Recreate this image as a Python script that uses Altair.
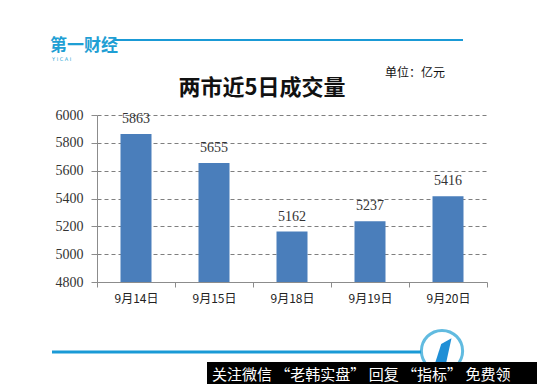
import altair as alt
import pandas as pd

categories = ["9月14日", "9月15日", "9月18日", "9月19日", "9月20日"]
values = [5863, 5655, 5162, 5237, 5416]
y_ticks = [4800, 5000, 5200, 5400, 5600, 5800, 6000]

df = pd.DataFrame({"date": categories, "value": values})

W, H = 390, 167
BLUE = "#1a9ad6"

x = alt.X("date:N", sort=categories, title=None,
          scale=alt.Scale(paddingInner=0, paddingOuter=0),
          axis=alt.Axis(labelAngle=0, tickBand="extent", tickSize=5, labelPadding=6,
                        domainColor="#8c8c8c", tickColor="#8c8c8c",
                        labelFont="Noto Sans CJK SC", labelFontSize=12, labelColor="#222"))
y = alt.Y("value:Q", title=None,
          scale=alt.Scale(domain=[4800, 6000], nice=False, zero=False),
          axis=alt.Axis(values=y_ticks, tickCount=7, format="d", labelOverlap=False,
                        tickSize=6, labelPadding=8,
                        domainColor="#8c8c8c", tickColor="#8c8c8c",
                        grid=True, gridDash=[4, 3], gridColor="#7f7f7f",
                        labelFont="Liberation Serif", labelFontSize=14, labelColor="#333"))

base = alt.Chart(df)
bars = base.mark_bar(width=31, color="#4a7ebb").encode(x=x, y=y, y2=alt.datum(4800))
labels = base.mark_text(baseline="bottom", dy=-8, font="Liberation Serif",
                        fontSize=14, color="#333").encode(x=x, y=y, text="value:Q")

one = pd.DataFrame({"a": [0]})
c = alt.Chart(one)

top_line = c.mark_rule(color=BLUE, strokeWidth=2).encode(
    x=alt.value(18), x2=alt.value(366), y=alt.value(-75))
bot_line = c.mark_rule(color=BLUE, strokeWidth=3).encode(
    x=alt.value(-45), x2=alt.value(324), y=alt.value(237))
logo = c.mark_text(text="第一财经", font="Noto Sans CJK SC", fontWeight="bold",
                   fontSize=17, color="#1f9fd4", align="left", baseline="middle").encode(
    x=alt.value(-47), y=alt.value(-69))
logo2 = c.mark_text(text="Y    I    C    A    I", font="DejaVu Sans", fontSize=5,
                    color="#1f9fd4", align="left", baseline="middle").encode(
    x=alt.value(-45), y=alt.value(-56))
title = c.mark_text(text="两市近5日成交量", font="Noto Sans CJK SC", fontWeight="bold",
                    fontSize=22, color="#111", align="center",
                    baseline="middle").encode(x=alt.value(165), y=alt.value(-27))
unit = c.mark_text(text="单位：亿元", font="Noto Sans CJK SC", fontSize=12,
                   color="#111", align="left", baseline="middle").encode(
    x=alt.value(288), y=alt.value(-42))
circle = c.mark_point(shape="circle", filled=False, size=1700, strokeWidth=3,
                      color="#1f9fd4").encode(x=alt.value(345), y=alt.value(236))
arrow = c.mark_point(shape="M -0.45 0.8 L -0.05 -0.45 L 0.6 -0.8 L 0.25 0.8 Z",
                     filled=True, size=1000, color="#1f8fd6", opacity=1).encode(
    x=alt.value(345), y=alt.value(236))
banner = c.mark_rect(color="#000").encode(
    x=alt.value(110), x2=alt.value(460), y=alt.value(247), y2=alt.value(290))
banner_text = c.mark_text(text="关注微信 “老韩实盘” 回复 “指标” 免费领",
                          font="Noto Sans CJK SC", fontSize=15, color="#fff",
                          align="left", baseline="middle").encode(
    x=alt.value(115), y=alt.value(260))

chart = alt.layer(top_line, bot_line, logo, logo2, title, unit, bars, labels,
                  circle, arrow, banner, banner_text).properties(
    width=W, height=H,
    autosize=alt.AutoSizeParams(type="none"),
    padding={"left": 89, "top": 107, "right": 50, "bottom": 102},
    background="white",
).configure_view(stroke=None)

chart.save("out.html", embed_options={"renderer": "svg", "actions": False})
